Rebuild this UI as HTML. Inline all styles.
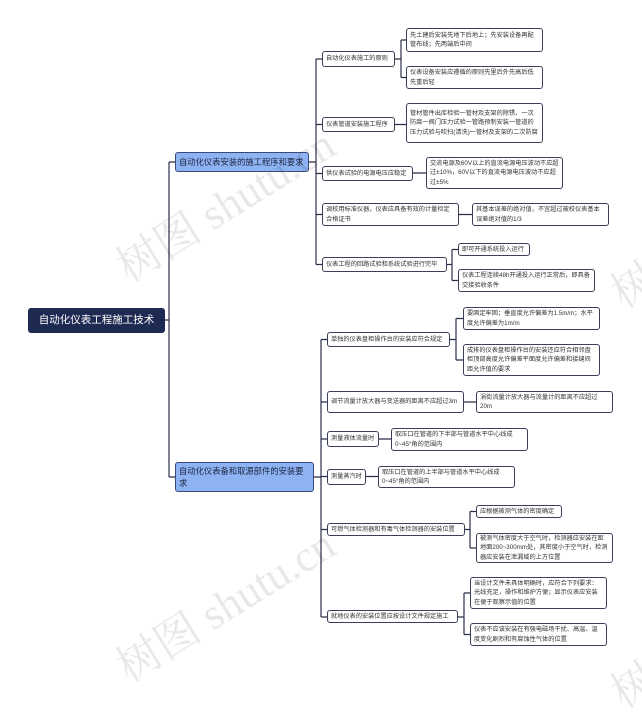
<!DOCTYPE html>
<html><head><meta charset="utf-8"><style>
body{margin:0;width:642px;height:675px;background:#fff;position:relative;overflow:hidden;font-family:"Liberation Sans","Noto Sans CJK SC",sans-serif}
.n{position:absolute;box-sizing:border-box;border:1px solid #3b3f5a;border-radius:3px;background:#fff;color:#333;font-size:6.2px;line-height:9.5px;padding:1px 3px;display:flex;align-items:center}
.b{background:#8db3f2;border-color:#3b4a7a;font-size:8.3px;line-height:12px;color:#1d2440;padding:1px 3px}
.r{background:#1f2a52;border-color:#1f2a52;color:#fff;font-size:10.5px;justify-content:center;padding:0}
.w{position:absolute;color:rgba(0,0,0,0.09);font-size:44px;font-family:"Liberation Serif","Noto Serif CJK SC",serif;transform:rotate(-32deg);white-space:nowrap;z-index:5;pointer-events:none}
svg{position:absolute;left:0;top:0}
</style></head><body>
<svg width="642" height="675" fill="none" stroke="#2a2f4a" stroke-width="1.2">
<path d="M165 320H169M169 162V477M169 162H175M169 477H175"/>
<path d="M309 162H316M316 59V264.5M316 59H322M316 124.5H322M316 173.5H322M316 214.5H322M316 264.5H322"/>
<path d="M314 477H321M321 339.5V617M321 339.5H327M321 402H327M321 439H327M321 476.5H327M321 529.5H327M321 617H327"/>
<path d="M395 59H401M401 40V77.5M401 40H406M401 77.5H406"/>
<path d="M395 124.5H406M413 173H426M459 214.5H472"/>
<path d="M447 264.5H452M452 249.5V280.5M452 249.5H458M452 280.5H458"/>
<path d="M450 339.5H456M456 318.5V360M456 318.5H463M456 360H463"/>
<path d="M464 402H476M379 439H391M366 476.5H378"/>
<path d="M465 529.5H470M470 511.5V548M470 511.5H476M470 548H476"/>
<path d="M458 617H464M464 593V634.5M464 593H470M464 634.5H470"/>
</svg>
<div class="n r" style="left:28px;top:308px;width:137px;height:25px">自动化仪表工程施工技术</div>
<div class="n b" style="left:175px;top:152px;width:134px;height:20px">自动化仪表安装的施工程序和要求</div>
<div class="n b" style="left:175px;top:462px;width:139px;height:30px">自动化仪表备和取源部件的安装要求</div>

<div class="n" style="left:322px;top:51px;width:73px;height:16px">自动化仪表施工的原则</div>
<div class="n" style="left:322px;top:117px;width:73px;height:15px">仪表管道安装施工程序</div>
<div class="n" style="left:322px;top:166px;width:91px;height:15px">供仪表试验的电源电压应稳定</div>
<div class="n" style="left:322px;top:203px;width:137px;height:23px">调校用标准仪器，仪表应具备有效的计量检定合格证书</div>
<div class="n" style="left:322px;top:257px;width:125px;height:15px">仪表工程的回路试验和系统试验进行完毕</div>

<div class="n" style="left:406px;top:28px;width:137px;height:24px">先土建后安装先地下后地上；先安装设备再配管布线；先两端后中间</div>
<div class="n" style="left:406px;top:66px;width:137px;height:23px">仪表设备安装应遵循的原则先里后外先高后低先重后轻</div>
<div class="n" style="left:406px;top:103px;width:137px;height:40px">管材管件出库检验一管材及支架的除锈、一次防腐一阀门压力试验一管路预制安装一管道的压力试验与吹扫(清洗)一管材及支架的二次防腐</div>
<div class="n" style="left:426px;top:157px;width:137px;height:32px">交流电源及60V以上的直流电源电压波动不应超过±10%，60V以下的直流电源电压波动不应超过±5%</div>
<div class="n" style="left:472px;top:203px;width:137px;height:23px">其基本误差的绝对值，不宜超过被校仪表基本误差绝对值的1/3</div>
<div class="n" style="left:458px;top:243px;width:72px;height:13px">即可开通系统投入运行</div>
<div class="n" style="left:458px;top:269px;width:137px;height:23px">仪表工程连续48h开通投入运行正常后，即具备交接验收条件</div>

<div class="n" style="left:327px;top:332px;width:123px;height:15px">单独的仪表盘柜操作台的安装应符合规定</div>
<div class="n" style="left:463px;top:307px;width:137px;height:23px">要固定牢固；垂直度允许偏差为1.5m/m；水平度允许偏差为1m/m</div>
<div class="n" style="left:463px;top:344px;width:137px;height:32px">成排的仪表盘柜操作台的安装还应符合相邻盘柜顶部高度允许偏差平面度允许偏差和接缝间距允许值的要求</div>
<div class="n" style="left:327px;top:391px;width:137px;height:22px">调节流量计放大器与变送器的距离不应超过3m</div>
<div class="n" style="left:476px;top:391px;width:137px;height:22px">涡街流量计放大器与流量计的距离不应超过20m</div>
<div class="n" style="left:327px;top:431px;width:52px;height:16px">测量液体流量时</div>
<div class="n" style="left:391px;top:428px;width:137px;height:23px">取压口在管道的下半部与管道水平中心线成0~45°角的范围内</div>
<div class="n" style="left:327px;top:469px;width:39px;height:16px">测量蒸汽时</div>
<div class="n" style="left:378px;top:466px;width:137px;height:22px">取压口在管道的上半部与管道水平中心线成0~45°角的范围内</div>
<div class="n" style="left:327px;top:523px;width:138px;height:13px">可燃气体检测器和有毒气体检测器的安装位置</div>
<div class="n" style="left:476px;top:505px;width:86px;height:13px">应根据被测气体的密度确定</div>
<div class="n" style="left:476px;top:533px;width:137px;height:30px">被测气体密度大于空气时，检测器应安装在距地面200~300mm处，其密度小于空气时，检测器应安装在泄漏域的上方位置</div>
<div class="n" style="left:327px;top:610px;width:131px;height:13px">就地仪表的安装位置应按设计文件规定施工</div>
<div class="n" style="left:470px;top:577px;width:137px;height:32px">当设计文件未具体明确时，应符合下列要求：光线充足，操作和维护方便；显示仪表应安装在便于观察示值的位置</div>
<div class="n" style="left:470px;top:623px;width:137px;height:23px">仪表不应该安装在有强电磁场干扰、高温、温度变化剧烈和有腐蚀性气体的位置</div>

<div class="w" style="left:100px;top:170px">树图 shutu.cn</div>
<div class="w" style="left:100px;top:570px">树图 shutu.cn</div>
<div class="w" style="left:610px;top:250px">树</div>
<div class="w" style="left:610px;top:650px">树</div>
</body></html>
